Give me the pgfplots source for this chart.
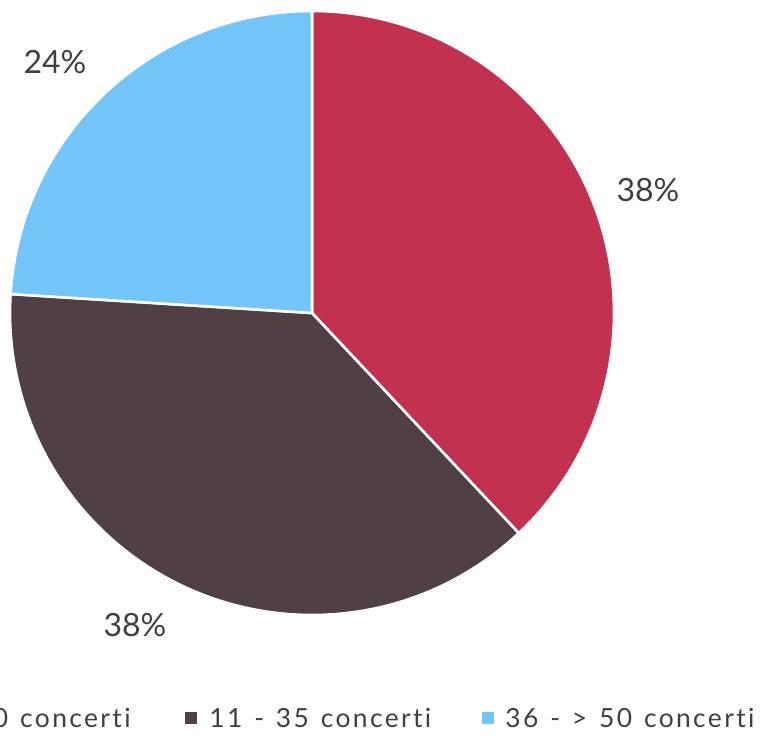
\documentclass[border=0pt]{standalone}
\usepackage{pgfplots}
\pgfplotsset{compat=1.18}
\usepackage{pgfplotstable}
\usepackage{fontspec}
\setmainfont{Lato}[Ligatures=NoCommon]
\newfontfamily\legfont{Lato}[LetterSpace=9, WordSpace=1.3, Ligatures=NoCommon]
\definecolor{cA}{HTML}{C33150}
\definecolor{cB}{HTML}{504044}
\definecolor{cC}{HTML}{73C5FA}
\definecolor{txt}{HTML}{404040}

% value in percent; lx, ly = label position in picture pixels
\pgfplotstableread[col sep=comma]{
label,value,color,lx,ly
1 - 10 concerti,38,cA,648,190
11 - 35 concerti,38,cB,135,625
36 - > 50 concerti,24,cC,55,62
}\piedata

\begin{document}
\begin{tikzpicture}
\begin{axis}[
  scale only axis, width=382.5pt, height=367.5pt,
  xmin=0, xmax=765, ymin=0, ymax=735, y dir=reverse,
  hide axis, clip=false]
\coordinate (bl) at (axis cs:0,735);
\coordinate (tr) at (axis cs:765,0);
\pgfplotstablegetrowsof{\piedata}
\pgfmathtruncatemacro\nrows{\pgfplotsretval-1}
\def\cum{0}
\pgfplotsforeachungrouped \i in {0,...,\nrows}{%
  \pgfplotstablegetelem{\i}{value}\of\piedata \let\v\pgfplotsretval
  \pgfplotstablegetelem{\i}{color}\of\piedata \let\c\pgfplotsretval
  \pgfplotstablegetelem{\i}{lx}\of\piedata \let\lx\pgfplotsretval
  \pgfplotstablegetelem{\i}{ly}\of\piedata \let\ly\pgfplotsretval
  \pgfmathsetmacro\aS{90-3.6*\cum}%
  \pgfmathsetmacro\aE{90-3.6*(\cum+\v)}%
  \edef\temp{%
    \noexpand\fill[\c, draw=white, line width=1.3pt, line join=round]
      (axis cs:312,313) -- ++(\aS:151pt) arc[start angle=\aS, end angle=\aE, radius=151pt] -- cycle;
    \noexpand\node[txt, inner sep=0pt, font=\noexpand\fontsize{16}{19}\noexpand\selectfont]
      at (axis cs:\lx,\ly) {\v\noexpand\%};
  }\temp
  \pgfmathsetmacro\cum{\cum+\v}%
}
% legend
\begin{scope}[every node/.style={txt, inner sep=0pt, font=\legfont\fontsize{13.2}{16}\selectfont}]
\node[anchor=base east] (t1) at (axis cs:131,727) {1 - 10 concerti};
\fill[cA] ([xshift=-7.5pt,yshift=1.5pt]t1.base west) rectangle ++(-6pt,6pt);
\node[anchor=base west] at (axis cs:209,727) {11 - 35 concerti};
\fill[cB] (axis cs:185,724) rectangle (axis cs:197,712);
\node[anchor=base west] at (axis cs:505,727) {36 - > 50 concerti};
\fill[cC] (axis cs:482,724) rectangle (axis cs:494,712);
\end{scope}
\end{axis}
\pgfresetboundingbox
\useasboundingbox (bl) rectangle (tr);
\end{tikzpicture}
\end{document}
